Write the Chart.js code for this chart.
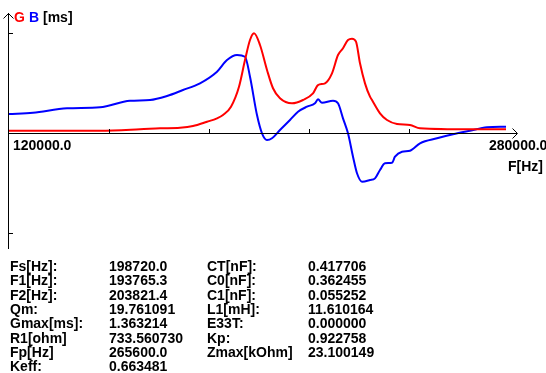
<!DOCTYPE html>
<html>
<head>
<meta charset="utf-8">
<script src="https://cdn.jsdelivr.net/npm/chart.js@4"></script>
<style>
  html, body { margin: 0; padding: 0; background: #fff; }
  canvas { display: block; }
</style>
</head>
<body>
<canvas id="admChart" width="546" height="373"></canvas>
<script>
// G (conductance) and B (susceptance) in ms versus frequency in Hz
const gFreq = [120000, 136320, 149120, 161920, 168320, 174720, 178880, 183360, 186560, 188480, 191040, 193600, 195520, 197120, 198400, 200320, 202560, 204480, 206720, 210560, 214080, 217280, 218880, 221120, 223360, 225280, 226880, 228480, 229760, 231040, 232320, 233920, 235520, 236160, 238720, 240960, 244160, 248320, 251520, 267520, 279040];
const gValues = [0.031, 0.031, 0.031, 0.050, 0.064, 0.072, 0.095, 0.154, 0.200, 0.245, 0.359, 0.631, 0.995, 1.268, 1.359, 1.200, 0.859, 0.610, 0.473, 0.405, 0.450, 0.541, 0.654, 0.678, 0.814, 1.063, 1.155, 1.268, 1.285, 1.245, 0.950, 0.677, 0.495, 0.450, 0.269, 0.177, 0.123, 0.109, 0.064, 0.050, 0.050];

const bFreq = [120000, 127680, 138560, 149120, 158720, 165120, 170560, 175680, 181120, 186560, 189760, 192960, 195520, 197120, 199360, 200960, 202560, 204160, 206720, 209920, 212480, 215360, 217920, 218880, 220160, 223680, 225280, 226880, 228480, 230080, 231360, 232960, 235520, 237120, 238720, 240320, 242560, 243520, 245760, 248320, 251520, 256960, 262080, 267520, 272960, 279040];
const bValues = [0.259, 0.277, 0.337, 0.350, 0.440, 0.450, 0.504, 0.586, 0.678, 0.836, 0.995, 1.063, 1.040, 0.767, 0.245, -0.004, -0.095, -0.072, 0.041, 0.177, 0.290, 0.359, 0.405, 0.459, 0.413, 0.440, 0.405, 0.200, -0.004, -0.323, -0.549, -0.664, -0.641, -0.618, -0.504, -0.413, -0.405, -0.323, -0.255, -0.241, -0.140, -0.072, -0.018, 0.031, 0.078, 0.086];

// axis ticks and labels
const xMin = 120000, xMax = 280000;
const xTicks = [152000, 184000, 216000, 248000];
const yTicks = [1.363214, -1.363214];
const xTickLabels = ['120000.0', '280000.0'];

// result table
const labels1 = ['Fs[Hz]:', 'F1[Hz]:', 'F2[Hz]:', 'Qm:', 'Gmax[ms]:', 'R1[ohm]', 'Fp[Hz]', 'Keff:'];
const values1 = ['198720.0', '193765.3', '203821.4', '19.761091', '1.363214', '733.560730', '265600.0', '0.663481'];
const labels2 = ['CT[nF]:', 'C0[nF]:', 'C1[nF]:', 'L1[mH]:', 'E33T:', 'Kp:', 'Zmax[kOhm]'];
const values2 = ['0.417706', '0.362455', '0.055252', '11.610164', '0.000000', '0.922758', '23.100149'];

const toPoints = (xs, ys) => xs.map((x, i) => ({ x: x, y: ys[i] }));

const FONT = 'bold 14px "Liberation Sans", Arial, sans-serif';

// draws axes, arrows, ticks and all the text
const decorations = {
  id: 'decorations',
  afterDraw(chart) {
    const ctx = chart.ctx;
    const xs = chart.scales.x, ys = chart.scales.y;
    const x0 = Math.round(xs.getPixelForValue(xMin)) - 1;
    const y0 = Math.round(ys.getPixelForValue(0));
    const top = Math.round(ys.top), bottom = Math.round(ys.bottom);
    const right = Math.round(xs.getPixelForValue(xMax));

    ctx.save();
    ctx.fillStyle = '#000';
    // y axis
    ctx.fillRect(x0, top, 1, bottom - top);
    // x axis
    ctx.fillRect(x0, y0, right - x0 + 8, 1);
    // arrows
    ctx.strokeStyle = '#000';
    ctx.lineWidth = 1;
    ctx.beginPath();
    ctx.moveTo(x0 - 5 + 0.5, top + 5.5);
    ctx.lineTo(x0 + 0.5, top + 0.5);
    ctx.lineTo(x0 + 5 + 0.5, top + 5.5);
    ctx.moveTo(right + 3.5, y0 - 4.5);
    ctx.lineTo(right + 8.5, y0 + 0.5);
    ctx.lineTo(right + 3.5, y0 + 5.5);
    ctx.stroke();
    // ticks
    xTicks.forEach(v => {
      const px = Math.round(xs.getPixelForValue(v));
      ctx.fillRect(px, y0 - 4, 1, 4);
    });
    yTicks.forEach(v => {
      const py = Math.round(ys.getPixelForValue(v));
      ctx.fillRect(x0, py, 5, 1);
    });

    ctx.font = FONT;
    ctx.textBaseline = 'alphabetic';
    ctx.textAlign = 'left';
    // header
    ctx.fillStyle = '#ff0000';
    ctx.fillText('G', 14, 22);
    ctx.fillStyle = '#0000ff';
    ctx.fillText('B', 29, 22);
    ctx.fillStyle = '#000';
    ctx.fillText('[ms]', 43, 22);
    // x labels
    ctx.fillText(xTickLabels[0], 13, 150);
    ctx.fillText(xTickLabels[1], 489, 150);
    ctx.fillText('F[Hz]', 508, 171);
    // table
    const rowY = i => 271 + i * 14.3;
    labels1.forEach((t, i) => ctx.fillText(t, 10, rowY(i)));
    values1.forEach((t, i) => ctx.fillText(t, 109, rowY(i)));
    labels2.forEach((t, i) => ctx.fillText(t, 207, rowY(i)));
    values2.forEach((t, i) => ctx.fillText(t, 308, rowY(i)));
    ctx.restore();
  }
};

const config = {
  type: 'line',
  data: {
    datasets: [
      {
        label: 'G',
        data: toPoints(gFreq, gValues),
        borderColor: '#ff0000',
        borderWidth: 2,
        pointRadius: 0,
        cubicInterpolationMode: 'monotone',
        fill: false
      },
      {
        label: 'B',
        data: toPoints(bFreq, bValues),
        borderColor: '#0000ff',
        borderWidth: 2,
        pointRadius: 0,
        cubicInterpolationMode: 'monotone',
        fill: false
      }
    ]
  },
  options: {
    responsive: false,
    animation: false,
    devicePixelRatio: 1,
    layout: { padding: { left: 9, right: 37, top: 13, bottom: 124 } },
    scales: {
      x: { type: 'linear', min: xMin, max: xMax, display: false },
      y: { type: 'linear', min: -1.581, max: 1.636, display: false }
    },
    plugins: {
      legend: { display: false },
      tooltip: { enabled: false }
    }
  },
  plugins: [decorations]
};

const ctx = document.getElementById('admChart').getContext('2d');
const admChart = new Chart(ctx, config);
</script>
</body>
</html>
